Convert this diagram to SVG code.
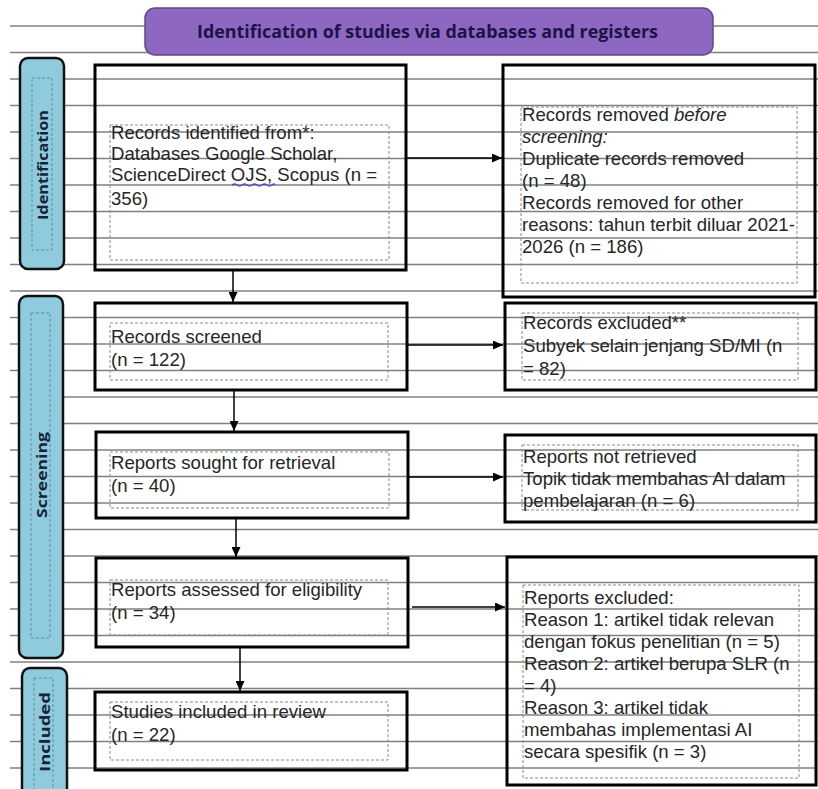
<svg xmlns="http://www.w3.org/2000/svg" width="818" height="789" viewBox="0 0 818 789">
<style>
.rule{stroke:#808080;stroke-width:1.7;fill:none}
.box{fill:none;stroke:#000;stroke-width:3}
.inner{fill:none;stroke:#8a8a8a;stroke-width:1;stroke-dasharray:3 2}
.bar{fill:#8fcbdc;stroke:#111;stroke-width:2.5}
.barin{fill:none;stroke:#5a8fa0;stroke-width:1;stroke-dasharray:3 2}
.t{font-family:"Liberation Sans",Arial,sans-serif;font-size:18.6px;fill:#262626}
.bt{font-family:"Open Sans","DejaVu Sans",sans-serif;font-weight:bold;font-size:15px;fill:#16233a}
.ht{font-family:"Open Sans","DejaVu Sans",sans-serif;font-weight:bold;font-size:17px;fill:#1b1446}
.conn{stroke:#000;stroke-width:1.5;fill:none}
</style>
<defs>
<marker id="ah" markerUnits="userSpaceOnUse" markerWidth="11" markerHeight="9" refX="10" refY="4.5" orient="auto">
<path d="M0,0 L10,4.5 L0,9 z" fill="#000"/>
</marker>
</defs>
<rect width="818" height="789" fill="#fff"/>
<g id="rules">
<line class="rule" x1="10" x2="818" y1="26" y2="26"/>
<line class="rule" x1="10" x2="818" y1="52.5" y2="52.5"/>
<line class="rule" x1="10" x2="818" y1="79" y2="79"/>
<line class="rule" x1="10" x2="818" y1="105.5" y2="105.5"/>
<line class="rule" x1="10" x2="818" y1="132" y2="132"/>
<line class="rule" x1="10" x2="818" y1="158.5" y2="158.5"/>
<line class="rule" x1="10" x2="818" y1="185" y2="185"/>
<line class="rule" x1="10" x2="818" y1="211.5" y2="211.5"/>
<line class="rule" x1="10" x2="818" y1="238" y2="238"/>
<line class="rule" x1="10" x2="818" y1="264.5" y2="264.5"/>
<line class="rule" x1="10" x2="818" y1="291" y2="291"/>
<line class="rule" x1="10" x2="818" y1="317.5" y2="317.5"/>
<line class="rule" x1="10" x2="818" y1="344" y2="344"/>
<line class="rule" x1="10" x2="818" y1="370.5" y2="370.5"/>
<line class="rule" x1="10" x2="818" y1="397" y2="397"/>
<line class="rule" x1="10" x2="818" y1="423.5" y2="423.5"/>
<line class="rule" x1="10" x2="818" y1="450" y2="450"/>
<line class="rule" x1="10" x2="818" y1="476.5" y2="476.5"/>
<line class="rule" x1="10" x2="818" y1="503" y2="503"/>
<line class="rule" x1="10" x2="818" y1="529.5" y2="529.5"/>
<line class="rule" x1="10" x2="818" y1="556" y2="556"/>
<line class="rule" x1="10" x2="818" y1="582.5" y2="582.5"/>
<line class="rule" x1="10" x2="818" y1="609" y2="609"/>
<line class="rule" x1="10" x2="818" y1="635.5" y2="635.5"/>
<line class="rule" x1="10" x2="818" y1="662" y2="662"/>
<line class="rule" x1="10" x2="818" y1="688.5" y2="688.5"/>
<line class="rule" x1="10" x2="818" y1="715" y2="715"/>
<line class="rule" x1="10" x2="818" y1="741.5" y2="741.5"/>
<line class="rule" x1="10" x2="818" y1="768" y2="768"/>
</g>
<g id="header">
<rect x="145" y="8" width="568" height="47" rx="10" fill="#8d67c2" stroke="#5e4a86" stroke-width="1.5"/>
<text class="ht" x="427.5" y="38" text-anchor="middle" textLength="461" lengthAdjust="spacingAndGlyphs">Identification of studies via databases and registers</text>
</g>
<g id="phase-identification">
<rect class="bar" x="20" y="58" width="44" height="211" rx="8"/>
<rect class="barin" x="32" y="78" width="20" height="172"/>
<text class="bt" transform="translate(48,165) rotate(-90)" text-anchor="middle" textLength="110" lengthAdjust="spacingAndGlyphs">Identification</text>
</g>
<g id="phase-screening">
<rect class="bar" x="19" y="296" width="44" height="362" rx="8"/>
<rect class="barin" x="31" y="313" width="19" height="325"/>
<text class="bt" transform="translate(47,475) rotate(-90)" text-anchor="middle" textLength="86" lengthAdjust="spacingAndGlyphs">Screening</text>
</g>
<g id="phase-included">
<rect class="bar" x="22" y="668" width="45" height="130" rx="8"/>
<rect class="barin" x="34" y="678" width="19" height="120"/>
<text class="bt" transform="translate(50,732) rotate(-90)" text-anchor="middle" textLength="80" lengthAdjust="spacingAndGlyphs">Included</text>
</g>
<g id="records-identified">
<rect class="box" x="95" y="65" width="311" height="205"/>
<rect class="inner" x="110" y="125" width="279" height="135"/>
<text class="t" x="111" y="139">Records identified from*:</text>
<text class="t" x="111" y="160">Databases Google Scholar,</text>
<text class="t" x="111" y="181">ScienceDirect OJS, Scopus (n =</text>
<text class="t" x="111" y="205">356)</text>
<path d="M232,185 q2.5,-2 5,0 t5,0 t5,0 t5,0 t5,0 t5,0 t5,0 t5,0 t3,0" fill="none" stroke="#4a4ad0" stroke-width="1.3"/>
</g>
<g id="records-removed">
<rect class="box" x="503" y="65" width="312" height="232"/>
<rect class="inner" x="521" y="107" width="276" height="176"/>
<text class="t" x="522" y="121">Records removed <tspan font-style="italic">before</tspan></text>
<text class="t" x="522" y="143" font-style="italic">screening:</text>
<text class="t" x="522" y="165">Duplicate records removed</text>
<text class="t" x="522" y="187">(n = 48)</text>
<text class="t" x="522" y="209">Records removed for other</text>
<text class="t" x="522" y="231">reasons: tahun terbit diluar 2021-</text>
<text class="t" x="522" y="253">2026 (n = 186)</text>
</g>
<g id="records-screened">
<rect class="box" x="95" y="303" width="312" height="87"/>
<rect class="inner" x="110" y="323" width="278" height="57"/>
<text class="t" x="111" y="343">Records screened</text>
<text class="t" x="111" y="366">(n = 122)</text>
</g>
<g id="records-excluded">
<rect class="box" x="505" y="303" width="311" height="87"/>
<rect class="inner" x="522" y="313" width="276" height="67"/>
<text class="t" x="523" y="329">Records excluded**</text>
<text class="t" x="523" y="352">Subyek selain jenjang SD/MI (n</text>
<text class="t" x="523" y="375">= 82)</text>
</g>
<g id="reports-sought">
<rect class="box" x="96" y="432" width="312" height="86"/>
<rect class="inner" x="110" y="452" width="279" height="56"/>
<text class="t" x="111" y="469">Reports sought for retrieval</text>
<text class="t" x="111" y="492">(n = 40)</text>
</g>
<g id="reports-not-retrieved">
<rect class="box" x="505" y="435" width="311" height="87"/>
<rect class="inner" x="522" y="445" width="276" height="65"/>
<text class="t" x="523" y="463">Reports not retrieved</text>
<text class="t" x="523" y="485">Topik tidak membahas AI dalam</text>
<text class="t" x="523" y="507">pembelajaran (n = 6)</text>
</g>
<g id="reports-assessed">
<rect class="box" x="96" y="558" width="312" height="89"/>
<rect class="inner" x="110" y="580" width="278" height="55"/>
<text class="t" x="111" y="596">Reports assessed for eligibility</text>
<text class="t" x="111" y="619">(n = 34)</text>
</g>
<g id="reports-excluded">
<rect class="box" x="507" y="557" width="309" height="228"/>
<rect class="inner" x="523" y="585" width="276" height="193"/>
<text class="t" x="524" y="604">Reports excluded:</text>
<text class="t" x="524" y="626">Reason 1: artikel tidak relevan</text>
<text class="t" x="524" y="648">dengan fokus penelitian (n = 5)</text>
<text class="t" x="524" y="670">Reason 2: artikel berupa SLR (n</text>
<text class="t" x="524" y="692">= 4)</text>
<text class="t" x="524" y="714">Reason 3: artikel tidak</text>
<text class="t" x="524" y="736">membahas implementasi AI</text>
<text class="t" x="524" y="758">secara spesifik (n = 3)</text>
</g>
<g id="studies-included">
<rect class="box" x="95" y="692" width="312" height="78"/>
<rect class="inner" x="110" y="702" width="278" height="58"/>
<text class="t" x="111" y="718">Studies included in review</text>
<text class="t" x="111" y="741">(n = 22)</text>
</g>
<g id="connectors">
<line class="conn" x1="406" y1="158" x2="502" y2="158" marker-end="url(#ah)"/>
<line class="conn" x1="407" y1="345" x2="503" y2="345" marker-end="url(#ah)"/>
<line class="conn" x1="409" y1="477" x2="503" y2="477" marker-end="url(#ah)"/>
<line class="conn" x1="412" y1="607" x2="505" y2="607" marker-end="url(#ah)"/>
<line class="conn" x1="233" y1="270" x2="233" y2="302" marker-end="url(#ah)"/>
<line class="conn" x1="234" y1="390" x2="234" y2="431" marker-end="url(#ah)"/>
<line class="conn" x1="236" y1="518" x2="236" y2="557" marker-end="url(#ah)"/>
<line class="conn" x1="240" y1="647" x2="240" y2="691" marker-end="url(#ah)"/>
</g>
</svg>
